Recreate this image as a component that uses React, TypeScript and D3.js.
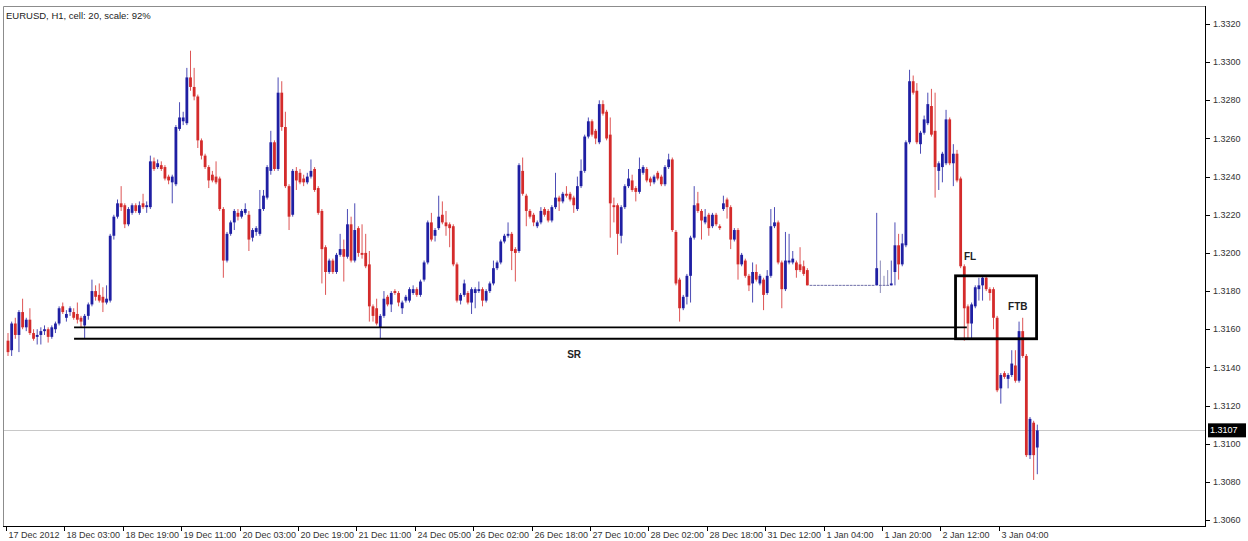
import React from "react";
import * as d3 from "d3";

type Bar = [number, number, number, number]; // open, high, low, close

const bars17Dec2012: Bar[] = [
  [1.3154,1.3158,1.3146,1.3148],[1.3149,1.3164,1.3146,1.3163],[1.3163,1.3166,1.3155,1.3157],[1.3157,1.3170,1.3148,1.3169],
  [1.3169,1.3176,1.3160,1.3161],[1.3161,1.3166,1.3159,1.3165],[1.3165,1.3171,1.3157,1.3158],[1.3158,1.3160,1.3154,1.3155],
  [1.3156,1.3160,1.3152,1.3157],[1.3157,1.3161,1.3152,1.3159],[1.3159,1.3162,1.3157,1.3160],[1.3160,1.3161,1.3153,1.3156],
  [1.3156,1.3162,1.3155,1.3161],[1.3160,1.3164,1.3158,1.3163],[1.3163,1.3172,1.3162,1.3171],[1.3172,1.3174,1.3168,1.3169],
];
const bars18Dec03: Bar[] = [
  [1.3166,1.3170,1.3164,1.3168],[1.3169,1.3172,1.3167,1.3171],[1.3169,1.3171,1.3165,1.3166],[1.3168,1.3174,1.3163,1.3165],
  [1.3166,1.3167,1.3161,1.3164],[1.3162,1.3168,1.3155,1.3167],[1.3167,1.3174,1.3165,1.3173],[1.3173,1.3186,1.3172,1.3180],
  [1.3180,1.3183,1.3175,1.3177],[1.3178,1.3184,1.3174,1.3175],[1.3177,1.3182,1.3169,1.3174],[1.3174,1.3183,1.3173,1.3176],
  [1.3175,1.3210,1.3174,1.3209],[1.3209,1.3220,1.3207,1.3219],[1.3219,1.3228,1.3218,1.3226],[1.3226,1.3235,1.3222,1.3224],
];
const bars18Dec19: Bar[] = [
  [1.3225,1.3226,1.3213,1.3215],[1.3215,1.3224,1.3214,1.3223],[1.3221,1.3226,1.3220,1.3225],[1.3225,1.3226,1.3221,1.3222],
  [1.3221,1.3227,1.3220,1.3225],[1.3226,1.3231,1.3223,1.3224],[1.3224,1.3227,1.3221,1.3225],[1.3224,1.3251,1.3223,1.3248],
  [1.3248,1.3250,1.3243,1.3244],[1.3245,1.3249,1.3244,1.3247],[1.3246,1.3248,1.3243,1.3244],[1.3245,1.3246,1.3238,1.3239],
  [1.3240,1.3241,1.3236,1.3238],[1.3237,1.3241,1.3226,1.3240],[1.3236,1.3267,1.3235,1.3266],[1.3265,1.3279,1.3264,1.3271],
];
const bars19Dec11: Bar[] = [
  [1.3269,1.3274,1.3267,1.3271],[1.3268,1.3297,1.3267,1.3292],[1.3292,1.3306,1.3285,1.3287],[1.3287,1.3297,1.3280,1.3282],
  [1.3282,1.3283,1.3255,1.3259],[1.3259,1.3260,1.3249,1.3251],[1.3251,1.3252,1.3244,1.3245],[1.3245,1.3246,1.3234,1.3238],
  [1.3241,1.3243,1.3237,1.3238],[1.3240,1.3248,1.3236,1.3237],[1.3239,1.3240,1.3222,1.3223],[1.3223,1.3224,1.3187,1.3196],
  [1.3196,1.3211,1.3195,1.3210],[1.3210,1.3217,1.3209,1.3216],[1.3216,1.3223,1.3212,1.3222],[1.3221,1.3223,1.3217,1.3219],
];
const bars20Dec03: Bar[] = [
  [1.3219,1.3223,1.3218,1.3222],[1.3221,1.3226,1.3220,1.3223],[1.3220,1.3222,1.3201,1.3207],[1.3208,1.3213,1.3206,1.3212],
  [1.3211,1.3214,1.3209,1.3213],[1.3210,1.3233,1.3209,1.3223],[1.3223,1.3233,1.3222,1.3230],[1.3229,1.3246,1.3228,1.3245],
  [1.3243,1.3264,1.3241,1.3258],[1.3258,1.3259,1.3243,1.3244],[1.3244,1.3292,1.3243,1.3284],[1.3284,1.3290,1.3264,1.3266],
  [1.3266,1.3274,1.3234,1.3235],[1.3235,1.3236,1.3212,1.3219],[1.3220,1.3244,1.3219,1.3243],[1.3243,1.3245,1.3233,1.3238],
];
const bars20Dec19: Bar[] = [
  [1.3242,1.3244,1.3236,1.3237],[1.3239,1.3241,1.3235,1.3237],[1.3237,1.3242,1.3236,1.3240],[1.3240,1.3249,1.3239,1.3243],
  [1.3244,1.3245,1.3232,1.3233],[1.3234,1.3235,1.3220,1.3221],[1.3222,1.3223,1.3184,1.3202],[1.3203,1.3204,1.3178,1.3190],
  [1.3190,1.3197,1.3189,1.3196],[1.3196,1.3197,1.3189,1.3190],[1.3190,1.3200,1.3189,1.3199],[1.3199,1.3210,1.3198,1.3202],
  [1.3202,1.3207,1.3185,1.3198],[1.3198,1.3223,1.3197,1.3215],[1.3215,1.3219,1.3195,1.3196],[1.3196,1.3226,1.3195,1.3212],
];
const bars21Dec11: Bar[] = [
  [1.3213,1.3214,1.3198,1.3200],[1.3200,1.3215,1.3197,1.3199],[1.3200,1.3210,1.3192,1.3193],[1.3194,1.3201,1.3164,1.3172],
  [1.3172,1.3173,1.3164,1.3167],[1.3171,1.3176,1.3162,1.3163],[1.3161,1.3168,1.3155,1.3167],[1.3167,1.3180,1.3166,1.3176],
  [1.3177,1.3178,1.3172,1.3173],[1.3173,1.3180,1.3169,1.3179],[1.3180,1.3181,1.3178,1.3179],[1.3179,1.3180,1.3172,1.3174],
  [1.3171,1.3175,1.3168,1.3174],[1.3175,1.3178,1.3174,1.3177],[1.3175,1.3182,1.3174,1.3181],[1.3179,1.3183,1.3178,1.3181],
];
const bars24Dec05: Bar[] = [
  [1.3181,1.3182,1.3177,1.3178],[1.3178,1.3186,1.3177,1.3185],[1.3186,1.3196,1.3185,1.3195],[1.3195,1.3217,1.3194,1.3216],
  [1.3216,1.3221,1.3206,1.3207],[1.3209,1.3213,1.3206,1.3212],[1.3213,1.3230,1.3212,1.3219],[1.3220,1.3227,1.3215,1.3216],
  [1.3216,1.3222,1.3209,1.3214],[1.3215,1.3216,1.3203,1.3213],[1.3214,1.3215,1.3193,1.3194],[1.3194,1.3195,1.3174,1.3175],
  [1.3175,1.3179,1.3173,1.3178],[1.3178,1.3186,1.3177,1.3184],[1.3179,1.3180,1.3173,1.3174],[1.3174,1.3182,1.3168,1.3181],
];
const bars26Dec02: Bar[] = [
  [1.3179,1.3182,1.3171,1.3181],[1.3180,1.3185,1.3179,1.3181],[1.3181,1.3182,1.3172,1.3175],[1.3175,1.3181,1.3174,1.3180],
  [1.3180,1.3185,1.3179,1.3184],[1.3184,1.3196,1.3183,1.3192],[1.3192,1.3196,1.3191,1.3195],[1.3195,1.3207,1.3194,1.3206],
  [1.3206,1.3210,1.3205,1.3209],[1.3209,1.3216,1.3208,1.3210],[1.3210,1.3211,1.3191,1.3201],[1.3202,1.3203,1.3185,1.3200],
  [1.3201,1.3247,1.3200,1.3246],[1.3243,1.3250,1.3230,1.3231],[1.3230,1.3231,1.3214,1.3222],[1.3222,1.3223,1.3218,1.3219],
];
const bars26Dec18: Bar[] = [
  [1.3220,1.3221,1.3214,1.3216],[1.3214,1.3217,1.3213,1.3216],[1.3216,1.3224,1.3215,1.3222],[1.3223,1.3224,1.3219,1.3220],
  [1.3222,1.3223,1.3216,1.3217],[1.3217,1.3225,1.3216,1.3224],[1.3224,1.3242,1.3223,1.3229],[1.3229,1.3230,1.3222,1.3227],
  [1.3227,1.3232,1.3226,1.3231],[1.3231,1.3235,1.3229,1.3230],[1.3231,1.3232,1.3227,1.3228],[1.3229,1.3230,1.3221,1.3225],
  [1.3223,1.3240,1.3222,1.3235],[1.3235,1.3249,1.3234,1.3243],[1.3243,1.3262,1.3242,1.3261],[1.3261,1.3271,1.3260,1.3269],
];
const bars27Dec10: Bar[] = [
  [1.3269,1.3270,1.3261,1.3262],[1.3264,1.3265,1.3257,1.3260],[1.3258,1.3280,1.3257,1.3278],[1.3278,1.3280,1.3272,1.3273],
  [1.3274,1.3275,1.3259,1.3260],[1.3262,1.3271,1.3208,1.3226],[1.3225,1.3229,1.3216,1.3224],[1.3225,1.3226,1.3199,1.3210],
  [1.3209,1.3225,1.3205,1.3224],[1.3224,1.3236,1.3223,1.3235],[1.3235,1.3244,1.3234,1.3239],[1.3238,1.3241,1.3232,1.3233],
  [1.3234,1.3235,1.3227,1.3232],[1.3232,1.3250,1.3231,1.3244],[1.3242,1.3246,1.3241,1.3245],[1.3244,1.3245,1.3237,1.3238],
];
const bars28Dec02: Bar[] = [
  [1.3239,1.3240,1.3235,1.3237],[1.3237,1.3241,1.3236,1.3240],[1.3242,1.3243,1.3238,1.3239],[1.3240,1.3241,1.3235,1.3236],
  [1.3236,1.3246,1.3235,1.3245],[1.3245,1.3252,1.3244,1.3249],[1.3249,1.3250,1.3211,1.3212],[1.3211,1.3212,1.3183,1.3184],
  [1.3186,1.3187,1.3164,1.3171],[1.3171,1.3178,1.3170,1.3177],[1.3177,1.3189,1.3173,1.3188],[1.3188,1.3209,1.3174,1.3208],
  [1.3208,1.3235,1.3207,1.3225],[1.3226,1.3232,1.3221,1.3222],[1.3222,1.3223,1.3207,1.3217],[1.3216,1.3223,1.3215,1.3219],
];
const bars28Dec18: Bar[] = [
  [1.3220,1.3221,1.3209,1.3213],[1.3214,1.3221,1.3213,1.3220],[1.3220,1.3221,1.3214,1.3215],[1.3214,1.3215,1.3212,1.3213],
  [1.3223,1.3230,1.3222,1.3226],[1.3228,1.3229,1.3218,1.3224],[1.3224,1.3225,1.3202,1.3207],[1.3207,1.3213,1.3206,1.3212],
  [1.3212,1.3213,1.3186,1.3194],[1.3194,1.3200,1.3193,1.3199],[1.3196,1.3197,1.3187,1.3188],[1.3188,1.3189,1.3180,1.3183],
  [1.3184,1.3195,1.3174,1.3190],[1.3190,1.3194,1.3185,1.3186],[1.3184,1.3189,1.3183,1.3188],[1.3186,1.3187,1.3170,1.3178],
];
const bars31Dec12: Bar[] = [
  [1.3179,1.3191,1.3178,1.3188],[1.3188,1.3223,1.3187,1.3214],[1.3214,1.3224,1.3213,1.3216],[1.3216,1.3217,1.3194,1.3195],
  [1.3195,1.3196,1.3171,1.3181],[1.3181,1.3211,1.3180,1.3196],[1.3195,1.3210,1.3194,1.3196],[1.3195,1.3201,1.3194,1.3197],
  [1.3195,1.3196,1.3187,1.3191],[1.3194,1.3203,1.3190,1.3191],[1.3193,1.3196,1.3188,1.3189],[1.3191,1.3192,1.3183,1.3183],
  [1.3183,1.3183,1.3183,1.3183],[1.3183,1.3183,1.3183,1.3183],[1.3183,1.3183,1.3183,1.3183],[1.3183,1.3183,1.3183,1.3183],
];
const bars1Jan04: Bar[] = [
  [1.3183,1.3183,1.3183,1.3183],[1.3183,1.3183,1.3183,1.3183],[1.3183,1.3183,1.3183,1.3183],[1.3183,1.3183,1.3183,1.3183],
  [1.3183,1.3183,1.3183,1.3183],[1.3183,1.3183,1.3183,1.3183],[1.3183,1.3183,1.3183,1.3183],[1.3183,1.3183,1.3183,1.3183],
  [1.3183,1.3183,1.3183,1.3183],[1.3183,1.3183,1.3183,1.3183],[1.3183,1.3183,1.3183,1.3183],[1.3183,1.3183,1.3183,1.3183],
  [1.3183,1.3183,1.3183,1.3183],[1.3183,1.3183,1.3183,1.3183],[1.3183,1.3221,1.3183,1.3192],[1.3183,1.3196,1.3179,1.3183],
];
const bars1Jan20: Bar[] = [
  [1.3183,1.3188,1.3183,1.3183],[1.3183,1.3191,1.3183,1.3183],[1.3183,1.3196,1.3183,1.3184],[1.3190,1.3216,1.3183,1.3204],
  [1.3204,1.3210,1.3186,1.3194],[1.3194,1.3210,1.3193,1.3205],[1.3204,1.3259,1.3203,1.3258],[1.3258,1.3296,1.3257,1.3290],
  [1.3290,1.3293,1.3283,1.3284],[1.3285,1.3289,1.3257,1.3258],[1.3257,1.3264,1.3252,1.3263],[1.3263,1.3272,1.3262,1.3270],
  [1.3268,1.3284,1.3267,1.3278],[1.3277,1.3286,1.3261,1.3262],[1.3264,1.3284,1.3229,1.3245],[1.3243,1.3248,1.3233,1.3247],
];
const bars2Jan12: Bar[] = [
  [1.3245,1.3253,1.3237,1.3252],[1.3247,1.3275,1.3246,1.3270],[1.3270,1.3271,1.3246,1.3247],[1.3247,1.3257,1.3235,1.3252],
  [1.3252,1.3254,1.3237,1.3238],[1.3239,1.3240,1.3192,1.3193],[1.3193,1.3194,1.3154,1.3171],[1.3172,1.3173,1.3155,1.3163],
  [1.3163,1.3174,1.3155,1.3173],[1.3172,1.3183,1.3171,1.3182],[1.3181,1.3187,1.3175,1.3183],[1.3183,1.3188,1.3175,1.3187],
  [1.3187,1.3188,1.3180,1.3181],[1.3181,1.3182,1.3175,1.3179],[1.3181,1.3182,1.3160,1.3166],[1.3166,1.3167,1.3127,1.3128],
];
const bars3Jan04: Bar[] = [
  [1.3129,1.3137,1.3121,1.3136],[1.3137,1.3138,1.3134,1.3135],[1.3134,1.3137,1.3129,1.3136],[1.3136,1.3149,1.3135,1.3142],
  [1.3141,1.3149,1.3132,1.3133],[1.3133,1.3164,1.3132,1.3159],[1.3159,1.3166,1.3145,1.3146],[1.3146,1.3147,1.3093,1.3094],
  [1.3094,1.3114,1.3092,1.3113],[1.3111,1.3112,1.3081,1.3094],[1.3098,1.3110,1.3084,1.3107],
];

const candles: Bar[] = [
  ...bars17Dec2012, ...bars18Dec03, ...bars18Dec19, ...bars19Dec11, ...bars20Dec03, ...bars20Dec19,
  ...bars21Dec11, ...bars24Dec05, ...bars26Dec02, ...bars26Dec18, ...bars27Dec10, ...bars28Dec02,
  ...bars28Dec18, ...bars31Dec12, ...bars1Jan04, ...bars1Jan20, ...bars2Jan12, ...bars3Jan04,
];

const timeLabels = [
  "17 Dec 2012", "18 Dec 03:00", "18 Dec 19:00", "19 Dec 11:00", "20 Dec 03:00", "20 Dec 19:00",
  "21 Dec 11:00", "24 Dec 05:00", "26 Dec 02:00", "26 Dec 18:00", "27 Dec 10:00", "28 Dec 02:00",
  "28 Dec 18:00", "31 Dec 12:00", "1 Jan 04:00", "1 Jan 20:00", "2 Jan 12:00", "3 Jan 04:00",
];
const barsPerLabel = 16;

const priceTicks = [1.3060, 1.3080, 1.3100, 1.3120, 1.3140, 1.3160, 1.3180, 1.3200, 1.3220, 1.3240, 1.3260, 1.3280, 1.3300, 1.3320];

const title = "EURUSD, H1, cell: 20, scale: 92%";

// annotations (bar index / price)
const srUpperPrice = 1.3161;
const srLowerPrice = 1.3155;
const srStartBar = 18.1;
const srUpperEndBar = 262.7;
const boxStartBar = 259.6;
const boxEndBar = 281.8;
const boxTopPrice = 1.3188;
const boxBottomPrice = 1.3155;
const noteLabels = [
  { text: "FL", bar: 261.9, price: 1.3198 },
  { text: "FTB", bar: 274.0, price: 1.3172 },
  { text: "SR", bar: 153.2, price: 1.3147 },
];

const W = 1248, H = 541;
const plotL = 3, plotT = 6, plotR = 1205, plotB = 526;
const BLUE = "#1f1fa3";
const RED = "#d42b2b";
const FONT = "'Liberation Sans', Arial, sans-serif";

export default function App() {
  const n = candles.length;
  const x = d3.scaleLinear().domain([0, n - 1]).range([8, 8 + 3.65 * (n - 1)]);
  const y = d3.scaleLinear().domain([1.306, 1.332]).range([520, 24]);
  const fmt = d3.format(".4f");
  const last = candles[n - 1][3];
  const bodyW = 2.8;

  return (
    <svg width={W} height={H} style={{ position: "absolute", left: 0, top: 0, background: "#fff" }} fontFamily={FONT}>
      <rect x={0} y={0} width={W} height={H} fill="#fff" />
      {/* frame */}
      <line x1={plotL + 0.5} y1={plotT + 0.5} x2={plotR} y2={plotT + 0.5} stroke="#8c8c8c" />
      <line x1={plotL + 0.5} y1={plotT + 0.5} x2={plotL + 0.5} y2={plotB} stroke="#8c8c8c" />
      <text x={6} y={19} fontSize={9.5} fill="#222">{title}</text>

      {/* current price line */}
      <line x1={plotL + 1} x2={plotR} y1={Math.round(y(last)) + 0.5} y2={Math.round(y(last)) + 0.5} stroke="#c8c8c8" />

      {/* candles */}
      <g>
        {candles.map((c, i) => {
          const [o, h, l, cl] = c;
          const cx = x(i);
          const up = cl > o;
          const flat = o === cl;
          const color = flat ? "#6f6fa8" : up ? BLUE : RED;
          const top = y(Math.max(o, cl));
          const bot = y(Math.min(o, cl));
          return (
            <g key={i}>
              {h > l && (
                <line x1={cx} x2={cx} y1={y(h)} y2={y(l)} stroke={color} strokeWidth={1} strokeOpacity={0.8} />
              )}
              <rect x={cx - bodyW / 2} y={top - (flat ? 0.5 : 0)} width={bodyW} height={Math.max(1, bot - top)} fill={color} />
            </g>
          );
        })}
      </g>

      {/* SR lines */}
      <line x1={x(srStartBar)} x2={x(srUpperEndBar)} y1={y(srUpperPrice)} y2={y(srUpperPrice)} stroke="#000" strokeWidth={1.8} />
      <line x1={x(srStartBar)} x2={x(boxStartBar)} y1={y(srLowerPrice)} y2={y(srLowerPrice)} stroke="#000" strokeWidth={1.8} />
      <rect x={x(boxStartBar)} y={y(boxTopPrice)} width={x(boxEndBar) - x(boxStartBar)} height={y(boxBottomPrice) - y(boxTopPrice)} fill="none" stroke="#000" strokeWidth={2.8} />
      {noteLabels.map((d) => (
        <text key={d.text} x={x(d.bar)} y={y(d.price)} dy="0.35em" fontSize={10} fontWeight="bold" fill="#222">{d.text}</text>
      ))}

      {/* right axis */}
      <line x1={plotR + 0.5} x2={plotR + 0.5} y1={plotT} y2={plotB + 1} stroke="#000" />
      {priceTicks.map((p) => (
        <g key={p}>
          <line x1={plotR + 1} x2={plotR + 5} y1={Math.round(y(p)) + 0.5} y2={Math.round(y(p)) + 0.5} stroke="#000" />
          <text x={plotR + 8} y={y(p)} dy="0.35em" fontSize={9} fill="#333">{fmt(p)}</text>
        </g>
      ))}
      <rect x={plotR + 3} y={y(last) - 7} width={38} height={14} fill="#000" />
      <text x={plotR + 5} y={y(last)} dy="0.35em" fontSize={9} fill="#fff">{fmt(last)}</text>

      {/* bottom axis */}
      <line x1={plotL} x2={plotR + 1} y1={plotB + 0.5} y2={plotB + 0.5} stroke="#000" />
      {timeLabels.map((t, k) => {
        const tx = Math.round(x(k * barsPerLabel)) - 1.5;
        return (
          <g key={t}>
            <line x1={tx} x2={tx} y1={plotB + 1} y2={plotB + 5} stroke="#000" />
            <text x={tx + 2} y={538} fontSize={9} fill="#333">{t}</text>
          </g>
        );
      })}
    </svg>
  );
}
